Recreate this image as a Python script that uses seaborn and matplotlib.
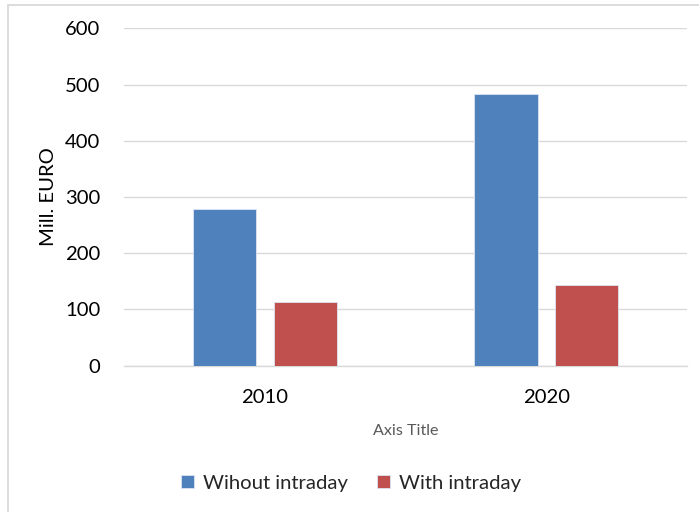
import matplotlib
matplotlib.use("Agg")
import matplotlib.pyplot as plt
import seaborn as sns
import pandas as pd
from matplotlib.patches import Rectangle

years = ["2010", "2020"]
series_names = ["Wihout intraday", "With intraday"]
without_intraday = [279, 484]
with_intraday = [114, 144]
y_ticks = [0, 100, 200, 300, 400, 500, 600]

df = pd.DataFrame({
    "year": years * 2,
    "series": [series_names[0]] * 2 + [series_names[1]] * 2,
    "value": without_intraday + with_intraday,
})

sns.set_theme(style="white")
plt.rcParams['font.family'] = ['Lato', 'DejaVu Sans']

fig = plt.figure(figsize=(6.99, 5.12), dpi=100)
ax = fig.add_axes([0.1774, 0.2857, 0.983 - 0.1774, 0.9447 - 0.2857])

sns.barplot(data=df, x="year", y="value", hue="series", order=years,
            hue_order=series_names, palette=["#4F81BD", "#C0504D"],
            saturation=1, width=0.574, gap=0.216, edgecolor="#DCE6F2",
            linewidth=0.6, ax=ax, zorder=3)

ax.set_ylim(0, 600)
ax.set_yticks(y_ticks)
ax.set_yticklabels([str(t) for t in y_ticks])
ax.set_xlim(-0.5, 1.5)
ax.grid(axis="y", color="#D9D9D9", linewidth=1.0, zorder=0)
ax.set_axisbelow(True)
for s in ["top", "right", "left"]:
    ax.spines[s].set_visible(False)
ax.spines["bottom"].set_color("#D9D9D9")
ax.spines["bottom"].set_linewidth(1.0)
ax.tick_params(axis="y", length=0, pad=17, labelsize=14.6, labelcolor="#000000")
ax.tick_params(axis="x", length=0, pad=17, labelsize=14.6, labelcolor="#000000")
ax.set_ylabel("Mill. EURO", fontsize=14.6, color="#000000", labelpad=6)
ax.set_xlabel("Axis Title", fontsize=11.6, color="#595959", labelpad=13)

handles, labels = ax.get_legend_handles_labels()
ax.get_legend().remove()
fig.legend(handles, labels, loc="center", bbox_to_anchor=(0.502, 0.0566),
           ncol=2, frameon=False, fontsize=14.6, handlelength=0.65,
           handleheight=0.65, handletextpad=0.45, columnspacing=1.4)

fig.patches.append(Rectangle((7.5 / 699, -0.1), 1.2, 1.1 - 4.5 / 512,
                             transform=fig.transFigure, fill=False,
                             edgecolor="#D9D9D9", linewidth=1.3))

fig.savefig("out.png", dpi=100, facecolor="white")
